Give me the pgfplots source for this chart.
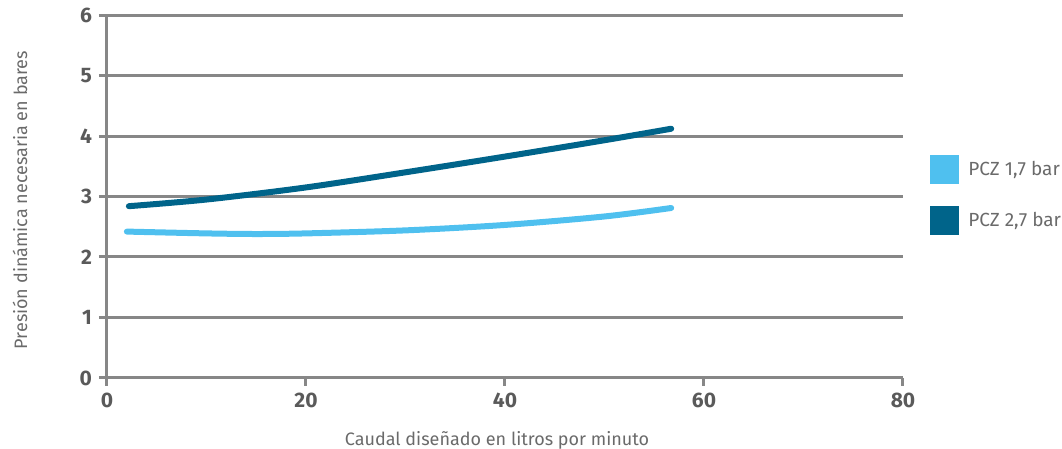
\documentclass[border=0pt]{standalone}
\usepackage{pgfplots}
\pgfplotsset{compat=1.18}
\usepackage{fontspec}
\setmainfont{Fira Sans}
\definecolor{lightb}{HTML}{4FC0EF}
\definecolor{darkb}{HTML}{00648A}
\definecolor{gridg}{HTML}{878787}
\definecolor{tickg}{HTML}{5A5A5A}
\definecolor{labg}{HTML}{6A6A6A}
\begin{document}
\begin{tikzpicture}
\path[use as bounding box] (-53.5pt,-35.5pt) rectangle (477.5pt,189pt);
\begin{axis}[
  at={(0,0)}, anchor=south west,
  scale only axis, width=398pt, height=181.5pt,
  xmin=0, xmax=80, ymin=0, ymax=6,
  xtick={0,20,40,60,80}, ytick={0,1,2,3,4,5,6},
  axis lines*=left, axis line style={-, draw=gridg, line width=1.5pt},
  ymajorgrids, grid style={draw=gridg, line width=1.5pt},
  tick style={draw=gridg, line width=1.5pt},
  tick align=outside, major tick length=4pt,
  /pgf/number format/assume math mode=true,
  ticklabel style={font=\fontsize{10.5}{12}\selectfont\bfseries, text=tickg},
  xlabel={Caudal diseñado en litros por minuto},
  ylabel={Presión dinámica necesaria en bares},
  label style={font=\fontsize{9}{10}\selectfont, text=labg},
  xlabel style={at={([yshift=-31pt]axis description cs:0.49,0)}, anchor=center},
  ylabel style={at={([xshift=-43.5pt]axis description cs:0,0.49)}, anchor=center},
  legend style={at={([xshift=13.5pt]axis description cs:1,0.503)}, anchor=west, draw=none, fill=none,
    font=\fontsize{9.5}{11}\selectfont, text=labg, row sep=11pt, inner sep=0pt,
    nodes={inner sep=0pt}},
  legend cell align=left,
  legend image code/.code={\fill (0pt,-5.75pt) rectangle (11.5pt,5.75pt); \path (16pt,0pt);},
  clip=false,
]
\addplot[color=lightb, line width=3pt, line cap=round, smooth] coordinates {
 (2,2.42) (10,2.39) (15,2.38) (20,2.39) (30,2.44) (40,2.53) (50,2.67) (56.7,2.81)
};
\addlegendentry{PCZ 1,7 bar}
\addplot[color=darkb, line width=3pt, line cap=round, smooth] coordinates {
 (2.2,2.84) (10,2.95) (20,3.15) (30,3.40) (40,3.66) (50,3.93) (56.7,4.12)
};
\addlegendentry{PCZ 2,7 bar}
\end{axis}
\end{tikzpicture}
\end{document}
